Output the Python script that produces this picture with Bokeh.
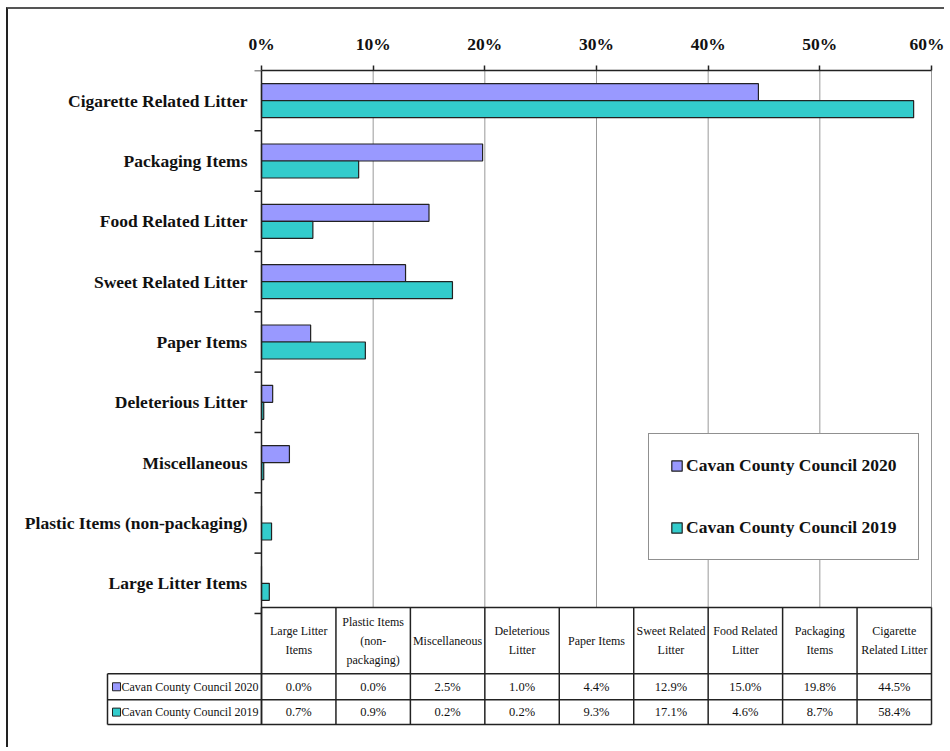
import numpy as np
from bokeh.plotting import figure
from bokeh.models import (Range1d, LinearAxis, FixedTicker, PrintfTickFormatter,
                          Legend, LegendItem, ColumnDataSource)
from bokeh.embed import file_html
from bokeh.resources import INLINE
from bokeh.core.properties import value
from bokeh.transform import dodge

# ---------------- data ----------------
categories = ["Large Litter Items", "Plastic Items (non-packaging)", "Miscellaneous",
              "Deleterious Litter", "Paper Items", "Sweet Related Litter",
              "Food Related Litter", "Packaging Items", "Cigarette Related Litter"]
table_headers = ["Large Litter\nItems", "Plastic Items\n(non-\npackaging)", "Miscellaneous",
                 "Deleterious\nLitter", "Paper Items", "Sweet Related\nLitter",
                 "Food Related\nLitter", "Packaging\nItems", "Cigarette\nRelated Litter"]
series_names = ["Cavan County Council 2020", "Cavan County Council 2019"]
values_2020 = [0.0, 0.0, 2.5, 1.0, 4.4, 12.9, 15.0, 19.8, 44.5]
values_2019 = [0.7, 0.9, 0.2, 0.2, 9.3, 17.1, 4.6, 8.7, 58.4]
x_ticks = [0, 10, 20, 30, 40, 50, 60]

# ---------------- style ----------------
SERIF = "Liberation Serif"
C2020 = "#9999FF"
C2019 = "#33CCCC"
LINE = "#222222"

OX, OY = 9, 9                 # canvas origin on the page
W, H = 938, 740
TOP = 70 - OY                 # space for top axis
SX = 670 / 60.0               # px per percent
PY = 60.33                    # px per category band
x0 = (OX - 262) / SX
x1 = x0 + W / SX
n = len(categories)
y1 = n
y0 = y1 - (H - TOP) / PY

p = figure(width=W, height=H, output_backend="svg", toolbar_location=None,
           x_axis_location=None, y_axis_location=None,
           x_range=Range1d(x0, x1), y_range=Range1d(y0, y1),
           min_border_left=0, min_border_right=0, min_border_bottom=0, min_border_top=TOP)
p.grid.visible = False
p.outline_line_color = None
p.background_fill_color = "white"
p.border_fill_color = "white"
p.styles = {"border-left": "2px solid #222", "border-top": "2px solid #555",
            "margin-left": "6px", "margin-top": "7px"}

# top axis
ax = LinearAxis(ticker=FixedTicker(ticks=x_ticks), formatter=PrintfTickFormatter(format="%d%%"),
                bounds=(x_ticks[0], x_ticks[-1]))
ax.axis_line_color = LINE
ax.axis_line_width = 1.5
ax.major_tick_line_color = LINE
ax.major_tick_line_width = 1.5
ax.major_tick_in = 0
ax.major_tick_out = 5
ax.minor_tick_line_color = None
ax.major_label_standoff = 12
ax.major_label_text_font = SERIF
ax.major_label_text_font_style = "bold"
ax.major_label_text_font_size = "17.5px"
ax.major_label_text_color = "#111111"
p.add_layout(ax, "above")

centers = [i + 0.5 for i in range(n)]
src = ColumnDataSource(dict(y=centers, v20=values_2020, v19=values_2019))

# grid lines
p.segment(x0=x_ticks[1:], y0=[0.1] * (len(x_ticks) - 1), x1=x_ticks[1:], y1=[n] * (len(x_ticks) - 1),
          line_color="#999999", line_width=1)

# bars
bh = 17 / PY
r20 = p.hbar(y=dodge("y", bh / 2), left=0, right="v20", height=bh, source=src,
             fill_color=C2020, line_color=LINE, line_width=1.2)
r19 = p.hbar(y=dodge("y", -bh / 2), left=0, right="v19", height=bh, source=src,
             fill_color=C2019, line_color=LINE, line_width=1.2)

# left axis and ticks
t_top, h_bot, r1_bot, r2_bot = 0.1, -1.0, -1.43, -1.84
p.segment(x0=[0], y0=[n], x1=[0], y1=[r2_bot], line_color=LINE, line_width=1.5)
bounds = list(range(n + 1))
p.ray(x=[0] * len(bounds), y=bounds, length=7, length_units="screen", angle=np.pi,
      line_color=LINE, line_width=1.5)

# category labels
p.text(x=[0] * n, y=centers, text=categories, x_offset=-14, text_align="right",
       text_baseline="middle", text_font=value(SERIF), text_font_style="bold",
       text_font_size="17.5px", text_color="#111111")

# ---------------- table ----------------
col_w = 60.0 / n
edges = [i * col_w for i in range(n + 1)]
col_c = [(i + 0.5) * col_w for i in range(n)]
xl = -154 / SX
hx0 = [0, xl, xl, xl]
hx1 = [60, 60, 60, 60]
hy = [t_top, h_bot, r1_bot, r2_bot]
p.segment(x0=hx0, y0=hy, x1=hx1, y1=hy, line_color=LINE, line_width=1.5)
p.segment(x0=edges, y0=[t_top] * len(edges), x1=edges, y1=[r2_bot] * len(edges),
          line_color=LINE, line_width=1.5)
p.segment(x0=[xl], y0=[h_bot], x1=[xl], y1=[r2_bot], line_color=LINE, line_width=1.5)

p.text(x=col_c, y=[(t_top + h_bot) / 2] * n, text=table_headers, text_align="center",
       text_baseline="middle", text_font=value(SERIF), text_font_size="12px",
       text_line_height=1.35, text_color="#111111")
row_y = [(h_bot + r1_bot) / 2, (r1_bot + r2_bot) / 2]
for vals, ry in zip([values_2020, values_2019], row_y):
    p.text(x=col_c, y=[ry] * n, text=[f"{v:.1f}%" for v in vals], text_align="center",
           text_baseline="middle", text_font=value(SERIF), text_font_size="12.5px",
           text_color="#111111")

p.rect(x=[xl + 9 / SX] * 2, y=row_y, width=8, height=8, width_units="screen",
       height_units="screen", fill_color=[C2020, C2019], line_color=LINE, line_width=1)
p.text(x=[xl + 14 / SX] * 2, y=row_y, text=series_names, text_align="left",
       text_baseline="middle", text_font=value(SERIF), text_font_size="12px",
       text_color="#111111")

# legend
legend = Legend(items=[LegendItem(label=series_names[0], renderers=[r20]),
                       LegendItem(label=series_names[1], renderers=[r19])],
                location=(649 - OX, OY + H - 560), orientation="vertical",
                glyph_width=13, glyph_height=13,
                label_height=20, spacing=41, padding=21, margin=0, label_standoff=3,
                border_line_color=LINE, border_line_width=1.5, background_fill_alpha=1,
                label_text_font=SERIF, label_text_font_style="bold",
                label_text_font_size="17.5px", label_text_color="#111111")
p.add_layout(legend)

open("out.html", "w").write(file_html(p, INLINE))
